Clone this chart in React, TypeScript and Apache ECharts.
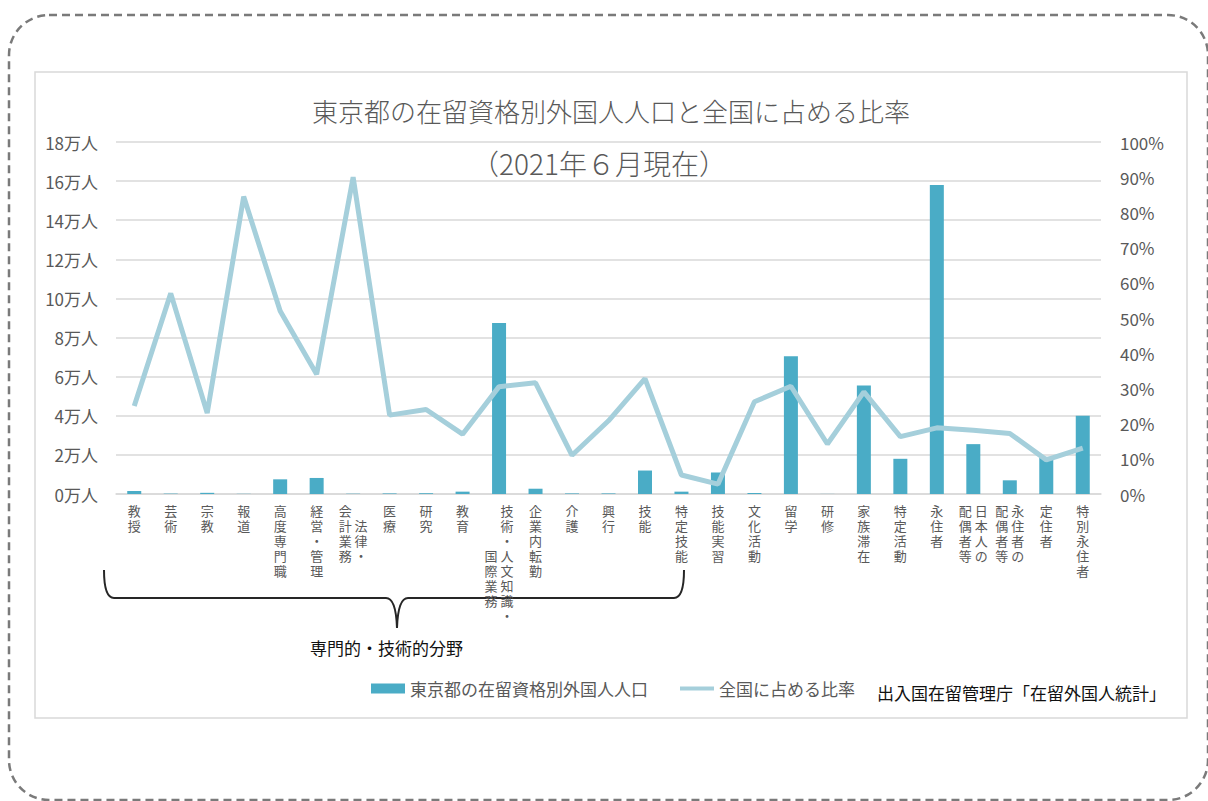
import React, { useEffect, useRef } from "react";
import * as echarts from "echarts";

const categories = [
  "教授", "芸術", "宗教", "報道", "高度専門職", "経営・管理", "法律・会計業務", "医療", "研究", "教育",
  "技術・人文知識・国際業務", "企業内転勤", "介護", "興行", "技能", "特定技能", "技能実習", "文化活動",
  "留学", "研修", "家族滞在", "特定活動", "永住者", "日本人の配偶者等", "永住者の配偶者等", "定住者", "特別永住者",
];

// 東京都の在留資格別外国人人口 (人)
const tokyoPopulation = [
  1500, 200, 600, 100, 7500, 8200, 150, 300, 400, 1200,
  87500, 2700, 300, 300, 12000, 1200, 11000, 500,
  70500, 50, 55500, 18000, 158000, 25500, 7000, 19000, 40000,
];

// 全国に占める比率 (%)
const nationalShare = [
  25, 57, 23, 84.5, 52, 34, 90, 22.4, 24, 17,
  30.5, 31.6, 11, 20.8, 32.8, 5.4, 2.8, 26.2,
  30.6, 14.2, 29, 16.3, 18.8, 18.1, 17.2, 9.7, 13,
];

const leftTicks = { min: 0, max: 180000, interval: 20000 };
const rightTicks = { min: 0, max: 100, interval: 10 };

const barName = "東京都の在留資格別外国人人口";
const lineName = "全国に占める比率";
const titleText = "東京都の在留資格別外国人人口と全国に占める比率";
const subtitleText = "（2021年６月現在）";
const braceText = "専門的・技術的分野";
const sourceText = "出入国在留管理庁「在留外国人統計」";

// vertical label columns (right column first, as in vertical Japanese writing)
const twoColumnLabels: Record<string, { right: string; left: string; rightStart: number; leftStart: number }> = {
  "法律・会計業務": { right: "法律・", left: "会計業務", rightStart: 1, leftStart: 0 },
  "技術・人文知識・国際業務": { right: "技術・人文知識・", left: "国際業務", rightStart: 0, leftStart: 3 },
  "日本人の配偶者等": { right: "日本人の", left: "配偶者等", rightStart: 0, leftStart: 0 },
  "永住者の配偶者等": { right: "永住者の", left: "配偶者等", rightStart: 0, leftStart: 0 },
};

const FONT = '"Noto Sans CJK JP", "Noto Sans", sans-serif';

function verticalLabel(name: string): string {
  const two = twoColumnLabels[name];
  if (!two) {
    return Array.from(name).map((ch) => `{c|${ch}}`).join("\n");
  }
  const r = Array.from(two.right);
  const l = Array.from(two.left);
  const rows = Math.max(two.rightStart + r.length, two.leftStart + l.length);
  const out: string[] = [];
  for (let i = 0; i < rows; i++) {
    const lc = l[i - two.leftStart] ?? "　";
    const rc = r[i - two.rightStart] ?? "　";
    out.push(`{c|${lc}}{c|${rc}}`);
  }
  return out.join("\n");
}

const bracePath =
  "M104 570 Q104 598 114 598 L386 598 Q396 598 397 628 Q398 598 408 598 L674 598 Q684 598 684 570";

export default function App() {
  const ref = useRef<HTMLDivElement>(null);

  useEffect(() => {
    if (!ref.current) return;
    try {
      echarts.graphic.registerShape("brace", echarts.graphic.extendPath(bracePath, {}));
    } catch (e) {
      // already registered
    }
    const chart = echarts.init(ref.current, undefined, { renderer: "svg" });
    chart.setOption({
      animation: false,
      backgroundColor: "#ffffff",
      textStyle: { fontFamily: FONT },
      grid: { left: 116, right: 107, top: 142, bottom: 307, containLabel: false },
      legend: {
        left: 371,
        top: 680,
        padding: 0,
        itemWidth: 34,
        itemHeight: 10,
        itemGap: 30,
        textStyle: { fontSize: 17, color: "#595959", fontFamily: FONT },
        data: [
          { name: barName, icon: "rect" },
          {
            name: lineName,
            itemStyle: { opacity: 0, color: "transparent", borderWidth: 0 },
            lineStyle: { width: 4, color: "#a5cfdb" },
          },
        ],
      },
      xAxis: {
        type: "category",
        data: categories,
        axisTick: { show: false },
        axisLine: { lineStyle: { color: "#d9d9d9", width: 1.5 } },
        axisLabel: {
          interval: 0,
          margin: 9,
          formatter: (v: string) => verticalLabel(v),
          rich: {
            c: { width: 16, align: "center", fontSize: 13, lineHeight: 15, color: "#595959", fontFamily: FONT },
          },
        },
      },
      yAxis: [
        {
          type: "value",
          ...leftTicks,
          axisLine: { show: false },
          axisTick: { show: false },
          splitLine: { lineStyle: { color: "#d9d9d9", width: 1.5 } },
          axisLabel: {
            margin: 18,
            fontSize: 17,
            color: "#595959",
            fontFamily: FONT,
            formatter: (v: number) => `${v / 10000}万人`,
          },
        },
        {
          type: "value",
          ...rightTicks,
          axisLine: { show: false },
          axisTick: { show: false },
          splitLine: { show: false },
          axisLabel: {
            margin: 19,
            fontSize: 17,
            color: "#595959",
            fontFamily: FONT,
            formatter: (v: number) => `${v}%`,
          },
        },
      ],
      series: [
        {
          name: barName,
          type: "bar",
          yAxisIndex: 0,
          barWidth: 14,
          itemStyle: { color: "#4aacc6" },
          data: tokyoPopulation,
          z: 2,
        },
        {
          name: lineName,
          type: "line",
          yAxisIndex: 1,
          symbol: "none",
          lineStyle: { color: "#a5cfdb", width: 5 },
          itemStyle: { color: "#a5cfdb" },
          data: nationalShare,
          z: 3,
        },
      ],
      graphic: [
        {
          type: "rect",
          silent: true,
          z: -10,
          shape: { x: 9, y: 15, width: 1199, height: 785, r: 40 },
          style: { fill: "none", stroke: "#7a7a7a", lineWidth: 2.5, lineDash: [8, 5] },
        },
        {
          type: "rect",
          silent: true,
          z: -10,
          shape: { x: 35, y: 72, width: 1152, height: 646 },
          style: { fill: "none", stroke: "#d9d9d9", lineWidth: 1.5 },
        },
        {
          type: "text",
          x: 611,
          y: 110,
          style: { text: titleText, fontSize: 26, fontWeight: 300, fill: "#595959", align: "center", verticalAlign: "middle", fontFamily: FONT },
        },
        {
          type: "text",
          x: 599,
          y: 163,
          style: { text: subtitleText, fontSize: 28, fontWeight: 300, fill: "#595959", align: "center", verticalAlign: "middle", fontFamily: FONT },
        },
        {
          type: "brace",
          x: 0,
          y: 0,
          style: { fill: "none", stroke: "#262626", lineWidth: 2 },
        },
        {
          type: "text",
          x: 310,
          y: 647,
          style: { text: braceText, fontSize: 17, fill: "#111111", align: "left", verticalAlign: "middle", fontFamily: FONT },
        },
        {
          type: "text",
          x: 877,
          y: 692,
          style: { text: sourceText, fontSize: 17, fill: "#111111", align: "left", verticalAlign: "middle", fontFamily: FONT },
        },
      ],
    });
    return () => chart.dispose();
  }, []);

  return (
    <div
      ref={ref}
      style={{ position: "absolute", left: 0, top: 0, width: 1208, height: 801 }}
    />
  );
}
